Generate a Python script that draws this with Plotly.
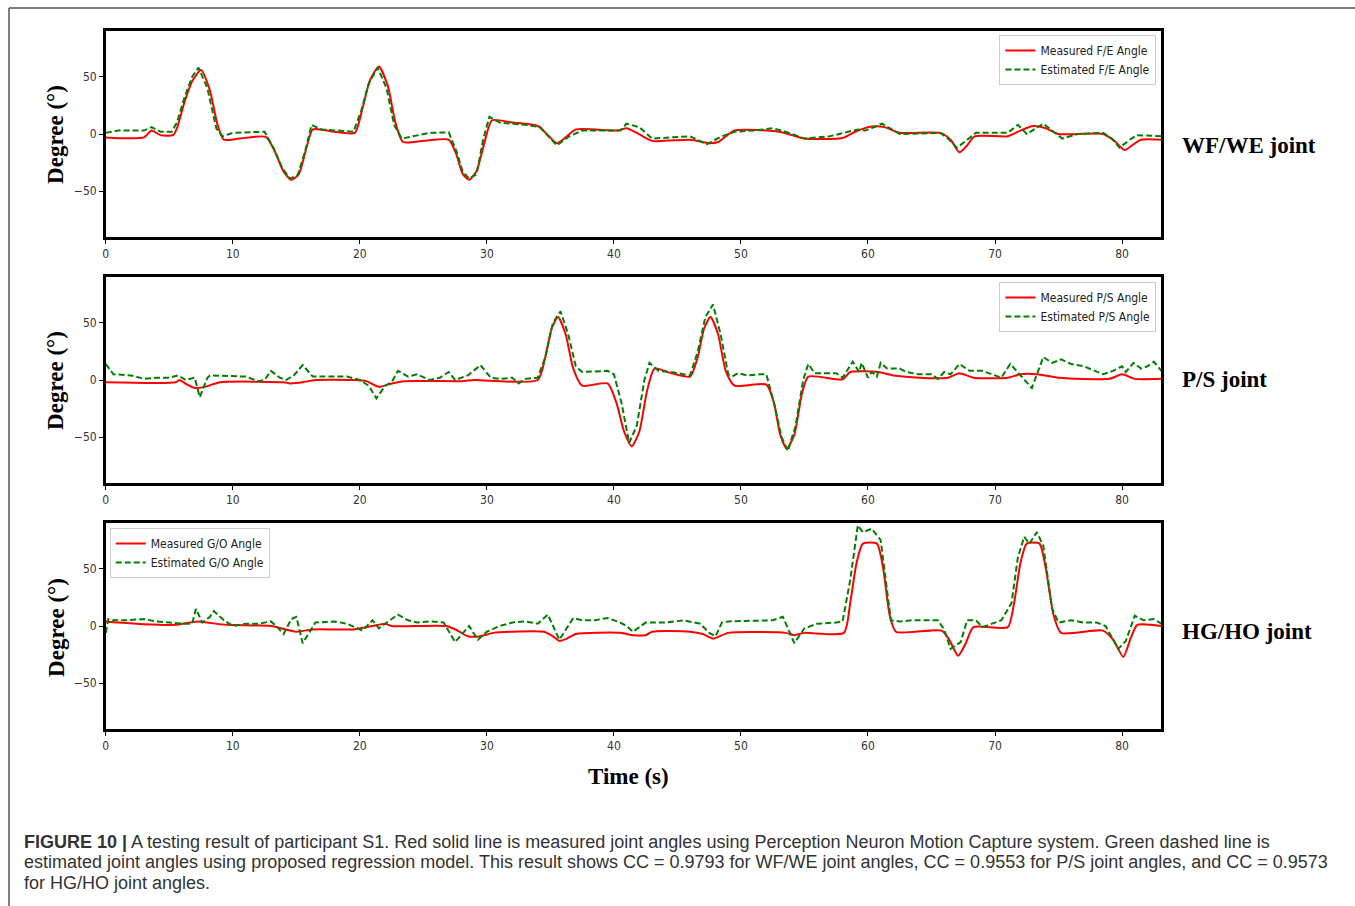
import plotly.graph_objects as go

# ---------------- data ----------------
fe_meas_t = [0, 3.0, 3.6, 4.3, 5.3, 5.6, 6.2, 6.8, 7.5, 8.2, 8.8, 9.3, 10.5, 12.6, 13.3, 14.0, 14.6, 15.2, 15.8, 16.3,
             18.0, 19.6, 20.2, 20.8, 21.5, 22.2, 22.8, 23.4, 25.0, 27.0, 27.6, 28.1, 28.6, 29.2, 29.8, 30.4, 32.0, 34.0,
             34.8, 35.5, 36.2, 37.0, 40.3, 41.0, 41.8, 43.0, 46.0, 47.5, 48.2, 49.5, 53.0, 54.0, 55.0, 58.0, 59.0, 60.3,
             61.3, 62.5, 65.7, 66.5, 67.2, 67.8, 68.4, 71.0, 72.0, 73.0, 74.0, 75.0, 78.5, 79.4, 80.2, 80.9, 81.5, 83.1]
fe_meas_v = [-3, -3, 3, -1, -1, 5, 28, 46, 56, 38, 8, -5, -4, -2.5, -15, -33, -40, -35, -12, 4,
             2, 1, 22, 47, 59, 42, 10, -7, -6, -5, -18, -35, -40, -32, -8, 12, 10, 7,
             -1, -8, -3, 4, 3, 5, 1, -6, -5, -8, -7, 3, 2, -1, -4, -3.5, 2, 6.5,
             6, 1, 1, -5, -16, -10, -2, -2, 3, 7, 5, 0, 0, -6, -14, -9, -5, -5]

fe_est_t = [0, 1.0, 3.0, 3.6, 4.3, 5.2, 5.6, 6.2, 6.8, 7.3, 8.0, 8.7, 9.2, 10.0, 12.5, 13.2, 13.9, 14.5, 15.1, 15.7,
            16.2, 17.0, 19.5, 20.1, 20.7, 21.4, 22.1, 22.7, 23.3, 25.5, 27.0, 27.6, 28.1, 28.6, 29.2, 29.7, 30.2, 31.0,
            33.0, 34.2, 35.5, 36.5, 37.5, 40.5, 41.0, 42.0, 43.0, 46.0, 47.3, 48.5, 49.5, 51.0, 52.5, 53.5, 55.0, 57.0,
            59.2, 59.8, 60.5, 61.1, 62.5, 65.7, 66.3, 67.0, 67.7, 68.5, 71.0, 71.8, 72.5, 73.8, 74.6, 75.3, 76.5, 78.5,
            79.2, 79.8, 80.6, 81.2, 83.1]
fe_est_v = [1, 3, 3, 6, 2, 2, 10, 32, 50, 58, 40, 5, -2, 1, 2, -12, -30, -39, -36, -15,
            8, 4, 2, 20, 44, 58, 40, 8, -4, 1, 1.5, -15, -33, -39, -35, -5, 15, 10,
            8, 6, -10, -2, 3, 3, 9, 6, -4, -2, -9, -2, 2, 3, 5, 2, -4, -2,
            4, 3, 6, 9, 0, 1, -4, -12, -6, 1, 1, 8, 0, 9, 2, -4, 0, 1,
            -4, -12, -5, -1, -2]

ps_meas_t = [0, 5.5, 5.8, 6.4, 7.0, 7.8, 9.0, 14.0, 14.5, 15.5, 16.5, 19.5, 20.5, 21.5, 22.5, 23.5, 28.0, 29.0, 34.0,
             34.6, 35.1, 35.6, 36.2, 36.8, 37.5, 39.5, 40.2, 40.8, 41.4, 42.0, 42.6, 43.2, 44.5, 46.0, 46.6, 47.1, 47.6,
             48.2, 48.8, 49.5, 52.0, 52.6, 53.1, 53.6, 54.2, 54.8, 55.3, 58.0, 58.6, 60.8, 62.0, 65.0, 66.3, 67.2, 68.3,
             71.0, 72.0, 73.3, 75.0, 79.0, 80.0, 81.0, 83.1]
ps_meas_v = [-2, -2, 0, -4, -7, -6, -2, -2, -3, -2, 0, 0, -1, -6, -3, -1, -1, 0, 0,
             20, 45, 55, 40, 10, -5, -3, -20, -45, -58, -45, -10, 10, 6, 3, 20, 45, 55,
             40, 8, -5, -4, -20, -48, -60, -48, -12, 3, 0.6, 7, 7, 4, 1.5, 2, 6, 2,
             2, 5, 5, 2, 1, 5, 1, 1]

ps_est_t = [0, 0.6, 2.0, 3.0, 4.0, 5.0, 5.7, 6.3, 7.0, 7.4, 8.0, 8.2, 11.0, 12.0, 12.5, 13.0, 13.7, 14.2, 14.8, 15.5,
            16.3, 19.0, 20.0, 20.7, 21.3, 22.0, 22.5, 23.0, 23.8, 24.5, 25.5, 26.3, 27.0, 27.5, 28.5, 29.5, 30.3, 31.0,
            32.0, 32.5, 33.0, 34.0, 34.6, 35.2, 35.8, 36.4, 37.0, 37.5, 39.5, 40.0, 40.6, 41.2, 41.8, 42.4, 42.8, 43.5,
            44.5, 46.0, 46.6, 47.2, 47.8, 48.4, 49.0, 49.3, 49.8, 50.5, 51.5, 52.0, 52.6, 53.2, 53.7, 54.3, 54.9, 55.3,
            55.8, 57.5, 58.0, 58.8, 59.3, 59.5, 60.0, 60.3, 60.7, 61.0, 61.5, 62.5, 63.0, 64.0, 65.0, 65.5, 66.0, 66.5,
            67.2, 68.0, 69.0, 70.0, 70.5, 71.2, 72.0, 72.9, 73.3, 73.8, 74.5, 75.2, 76.0, 77.0, 78.5, 79.3, 80.0, 80.3,
            80.9, 81.5, 82.0, 82.5, 83.1]
ps_est_v = [14, 5, 4, 1, 2, 2, 4, 0, 2, -15, 2, 4, 3, -1, 0, 8, 2, 0, 4, 13,
            3, 3, 0, -5, -16, -5, -2, 8, 3, 5, 0, 2, 7, 0, 4, 13, 2, 1,
            2, -3, 1, 2, 20, 50, 60, 40, 12, 7, 8, 5, -20, -55, -40, 0, 15, 8,
            7, 4, 25, 55, 66, 40, 5, 3, 6, 4, 5, 5, -20, -50, -62, -40, 0, 14,
            6, 6, 2, 16, 7, 15, 2, 7, 3, 15, 10, 10, 7, 5, 5, 1, 7, 5,
            14, 8, 8, 4, 2, 14, 4, -7, 5, 20, 15, 18, 14, 12, 5, 8, 12, 7,
            15, 10, 12, 16, 8]

go_meas_t = [0, 1.0, 3.0, 5.5, 7.2, 8.0, 9.5, 13.0, 14.5, 15.0, 16.3, 19.5, 21.0, 22.0, 22.5, 26.8, 27.7, 28.5, 29.5,
             30.5, 34.5, 35.2, 35.7, 36.3, 37.0, 40.5, 41.5, 42.5, 43.0, 46.0, 47.0, 47.8, 49.0, 53.5, 54.2, 55.0, 58.1,
             58.6, 59.1, 59.6, 60.7, 61.2, 61.7, 62.2, 65.8, 66.4, 67.1, 67.7, 68.3, 71.0, 71.5, 72.0, 72.5, 73.5, 74.0,
             74.6, 75.2, 78.5, 79.3, 80.1, 80.7, 81.2, 83.1]
go_meas_v = [4, 3, 1.5, 1, 4, 3, 1, 0, -4, -5, -3, -3, 0, 2, 0, 0, -4, -9, -9,
             -6, -5, -9, -13, -11, -7, -6, -8, -8, -5, -5, -7, -11, -6, -6, -8, -6, -6,
             20, 55, 72, 72, 50, 10, -5, -4, -12, -26, -15, -1, -1, 20, 55, 72, 72, 50,
             10, -6, -4, -12, -27, -10, 1, 0]

go_est_t = [0, 0.2, 0.5, 1.5, 3.0, 4.0, 5.0, 6.0, 6.8, 7.1, 7.6, 8.2, 8.5, 9.3, 10.0, 11.0, 12.0, 13.0, 13.5, 14.0,
            14.6, 15.0, 15.5, 16.5, 18.0, 19.0, 20.2, 21.0, 21.5, 22.3, 23.0, 23.8, 24.5, 25.5, 26.6, 27.5, 28.0, 28.6,
            29.0, 29.3, 30.0, 31.0, 32.0, 33.0, 34.0, 34.8, 35.7, 36.8, 37.5, 38.5, 39.5, 40.5, 41.0, 41.5, 42.5, 44.0,
            45.5, 46.8, 47.5, 48.0, 48.5, 49.0, 52.5, 53.3, 54.2, 55.0, 56.0, 57.5, 58.0, 58.6, 59.2, 59.6, 60.3, 61.0,
            61.8, 62.5, 63.5, 65.5, 66.0, 66.5, 67.3, 67.8, 68.5, 69.0, 70.0, 70.5, 71.3, 71.8, 72.3, 72.7, 73.3, 73.8,
            74.5, 75.0, 76.0, 77.0, 78.0, 78.7, 79.7, 80.3, 81.0, 81.7, 82.5, 83.1]
go_est_v = [-6, 6, 5, 5, 6, 4, 3, 2, 2, 15, 3, 8, 13, 5, 0, 2, 2, 4, -1, -7,
            6, 8, -15, 3, 4, 2, -4, 5, -2, 4, 10, 5, 3, 4, 3, -14, -8, 0,
            -7, -12, -5, 0, 3, 4, 2, 10, -12, 7, 5, 5, 7, 3, 0, -5, 3, 3,
            5, 2, -6, -9, 3, 4, 5, 8, -15, -2, 2, 3, 4, 40, 88, 82, 85, 75,
            5, 4, 5, 5, -3, -20, -14, 5, 5, -1, 3, 5, 20, 60, 78, 72, 82, 70,
            15, 3, 5, 3, 3, 0, -20, -13, 9, 5, 6, 2]

x_ticks = [0, 10, 20, 30, 40, 50, 60, 70, 80]
y_ticks = [-50, 0, 50]
panel_names = ["WF/WE joint", "P/S joint", "HG/HO joint"]
meas_names = ["Measured F/E Angle", "Measured P/S Angle", "Measured G/O Angle"]
est_names = ["Estimated F/E Angle", "Estimated P/S Angle", "Estimated G/O Angle"]
caption_lines = [
    "<b>FIGURE 10 |</b> A testing result of participant S1. Red solid line is measured joint angles using "
    "Perception Neuron Motion Capture system. Green dashed line is",
    "estimated joint angles using proposed regression model. This result shows CC = 0.9793 for WF/WE joint "
    "angles, CC = 0.9553 for P/S joint angles, and CC = 0.9573",
    "for HG/HO joint angles.",
]

# ---------------- layout geometry ----------------
W, H = 1355, 906
def px(x):
    return x / W
def py(y):
    return 1 - y / H

x_dom = [px(103), px(1161)]
y_doms = [[py(237), py(31)], [py(483), py(277)], [py(729), py(523)]]

RED = "#ff0000"
GREEN = "#008000"
TICKFONT = dict(family="Liberation Sans Narrow, DejaVu Sans Condensed, Roboto, sans-serif", size=12, color="#333333")
SERIF = "Liberation Serif, Times New Roman, serif"

fig = go.Figure()

series = [
    (fe_meas_t, fe_meas_v, fe_est_t, fe_est_v),
    (ps_meas_t, ps_meas_v, ps_est_t, ps_est_v),
    (go_meas_t, go_meas_v, go_est_t, go_est_v),
]
legend_ids = ["legend", "legend2", "legend3"]

for i, (mt, mv, et, ev) in enumerate(series):
    xa = "x" if i == 0 else f"x{i+1}"
    ya = "y" if i == 0 else f"y{i+1}"
    fig.add_trace(go.Scatter(x=mt, y=mv, mode="lines", name=meas_names[i],
                             line=dict(color=RED, width=2, shape="spline", smoothing=0.6),
                             xaxis=xa, yaxis=ya, legend=legend_ids[i]))
    fig.add_trace(go.Scatter(x=et, y=ev, mode="lines", name=est_names[i],
                             line=dict(color=GREEN, width=2, dash="6px,3px"),
                             xaxis=xa, yaxis=ya, legend=legend_ids[i]))

layout = dict(
    width=W, height=H,
    margin=dict(l=0, r=0, t=0, b=0),
    paper_bgcolor="white", plot_bgcolor="white",
    showlegend=True,
)
axis_common = dict(showline=True, linewidth=2.5, linecolor="black", mirror=True,
                   showgrid=False, zeroline=False, ticks="outside", ticklen=4,
                   tickwidth=1, tickcolor="black", tickfont=TICKFONT)
for i in range(3):
    xk = "xaxis" if i == 0 else f"xaxis{i+1}"
    yk = "yaxis" if i == 0 else f"yaxis{i+1}"
    ya = "y" if i == 0 else f"y{i+1}"
    xa = "x" if i == 0 else f"x{i+1}"
    layout[xk] = dict(domain=x_dom, anchor=ya, range=[0, 83.1], tickvals=x_ticks, **axis_common)
    layout[yk] = dict(domain=y_doms[i], anchor=xa, range=[-90, 90], tickvals=y_ticks, **axis_common)

leg_common = dict(bgcolor="white", bordercolor="#cccccc", borderwidth=1,
                  font=dict(family=TICKFONT["family"], size=12, color="#222222"),
                  itemwidth=30, tracegroupgap=0)
layout["legend"] = dict(x=px(1156), y=py(35), xanchor="right", yanchor="top", **leg_common)
layout["legend2"] = dict(x=px(1156), y=py(282), xanchor="right", yanchor="top", **leg_common)
layout["legend3"] = dict(x=px(107), y=py(528), xanchor="left", yanchor="top", **leg_common)

fig.update_layout(**layout)

annotations = []
centers = [134, 380, 627]
label_y = [146, 379, 631]
for i in range(3):
    annotations.append(dict(x=px(53), y=py(centers[i]), xref="paper", yref="paper",
                            text="<b>Degree (°)</b>", textangle=-90, showarrow=False,
                            font=dict(family=SERIF, size=23, color="black"),
                            xanchor="center", yanchor="middle"))
    annotations.append(dict(x=px(1180), y=py(label_y[i]), xref="paper", yref="paper",
                            text=f"<b>{panel_names[i]}</b>", showarrow=False,
                            font=dict(family=SERIF, size=23, color="black"),
                            xanchor="left", yanchor="middle"))
annotations.append(dict(x=px(627), y=py(776), xref="paper", yref="paper",
                        text="<b>Time (s)</b>", showarrow=False,
                        font=dict(family=SERIF, size=23, color="black"),
                        xanchor="center", yanchor="middle"))
cap_y = [842, 862, 883]
for line, yy in zip(caption_lines, cap_y):
    annotations.append(dict(x=px(19), y=py(yy), xref="paper", yref="paper",
                            text=line, showarrow=False, align="left",
                            font=dict(family="Liberation Sans, Arial, sans-serif", size=18, color="#333333"),
                            xanchor="left", yanchor="middle"))
fig.update_layout(annotations=annotations)

shapes = [
    dict(type="line", xref="paper", yref="paper", x0=px(6), x1=1, y0=py(8), y1=py(8),
         line=dict(color="#555555", width=1.5)),
    dict(type="line", xref="paper", yref="paper", x0=px(6), x1=px(6), y0=0, y1=py(8),
         line=dict(color="#555555", width=1.5)),
]
fig.update_layout(shapes=shapes)

fig.write_html("out.html")
